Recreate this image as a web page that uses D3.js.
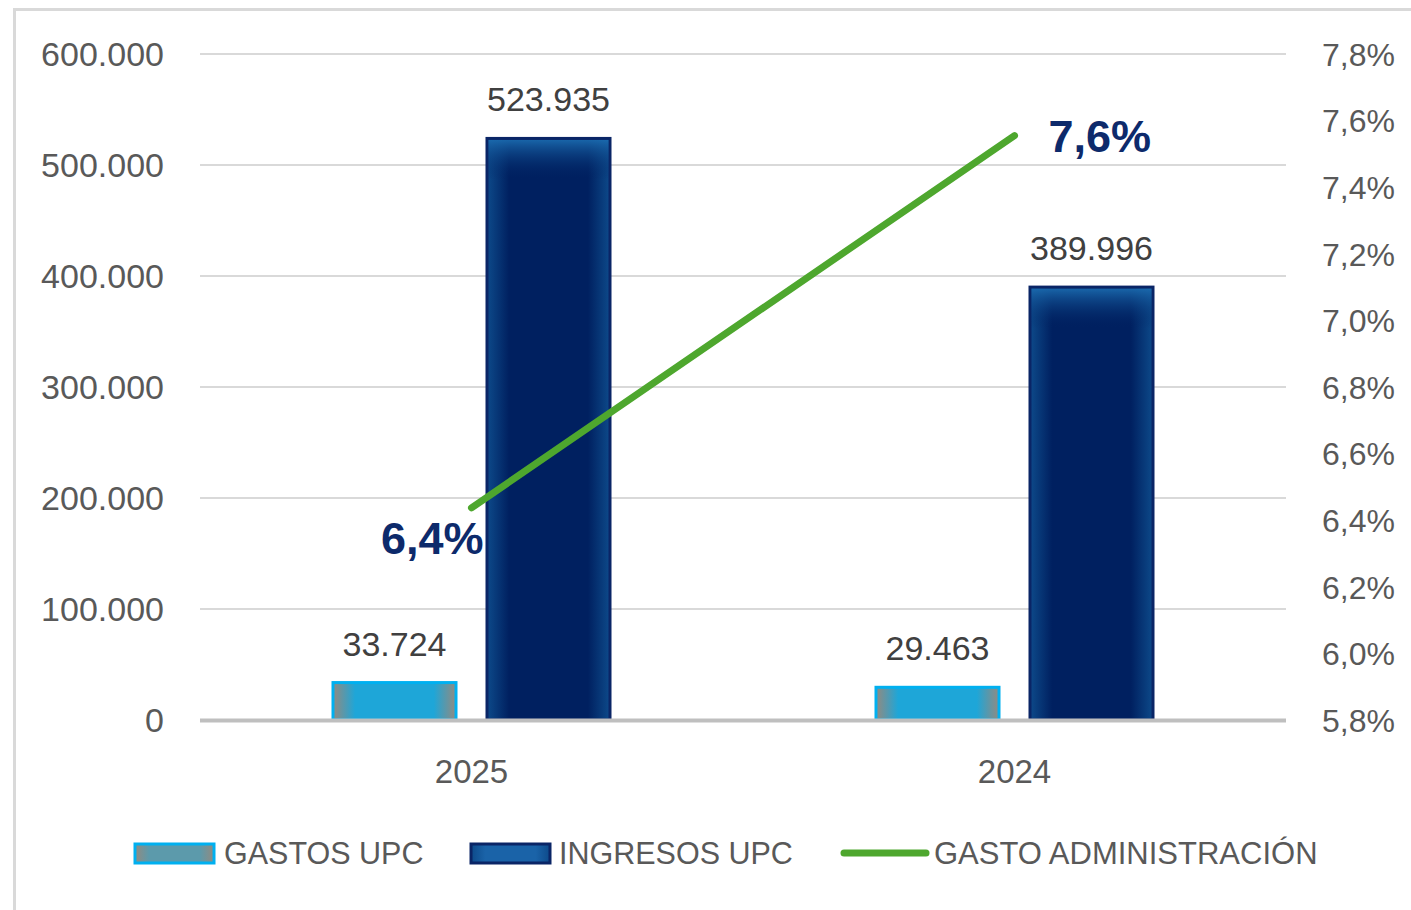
<!DOCTYPE html>
<html>
<head>
<meta charset="utf-8">
<script src="https://cdn.jsdelivr.net/npm/d3@7"></script>
<style>
  body { margin: 0; background: #fff; }
  svg { display: block; font-family: "Liberation Sans", Arial, sans-serif; }
</style>
</head>
<body>
<svg width="1411" height="910"></svg>
<script>
/* datos */
var categories = ["2025", "2024"];
var gastos = [33724, 29463];
var ingresos = [523935, 389996];
var gastoAdm = [0.06437, 0.07555];
var leftTicks = [0, 100000, 200000, 300000, 400000, 500000, 600000];
var rightTicks = [0.058, 0.060, 0.062, 0.064, 0.066, 0.068, 0.070, 0.072, 0.074, 0.076, 0.078];

var svg = d3.select("svg"),
    width = +svg.attr("width"),
    height = +svg.attr("height");

var fmtNum = function (v) { return d3.format(",")(v).replace(/,/g, "."); };
var fmtPct = function (v) {
    return (Math.round(v * 1000 + 1e-6) / 10).toFixed(1).replace(".", ",") + "%";
};

// marco
svg.append("rect")
    .attr("x", 14.5).attr("y", 9.5)
    .attr("width", width + 20).attr("height", height + 20)
    .attr("fill", "none").attr("stroke", "#d9d9d9").attr("stroke-width", 3);

var plotL = 200, plotR = 1286, plotT = 54, plotB = 720;

var x = d3.scaleBand().domain(categories).range([plotL, plotR]);
var y = d3.scaleLinear().domain([0, 600000]).range([plotB, plotT]);
var y2 = d3.scaleLinear().domain([0.058, 0.078]).range([plotB, plotT]);

var defs = svg.append("defs");

function hGrad(id, edge, mid) {
    var g = defs.append("linearGradient").attr("id", id)
        .attr("x1", 0).attr("x2", 1).attr("y1", 0).attr("y2", 0);
    g.append("stop").attr("offset", "0%").attr("stop-color", edge);
    g.append("stop").attr("offset", "18%").attr("stop-color", mid);
    g.append("stop").attr("offset", "82%").attr("stop-color", mid);
    g.append("stop").attr("offset", "100%").attr("stop-color", edge);
}
hGrad("gGastos", "#928a80", "#1ea6d8");
hGrad("gIngresos", "#0d4a8a", "#002060");
hGrad("gGastosLeg", "#928a80", "#5c9aab");
hGrad("gIngresosLeg", "#0d4a8a", "#1a63a8");

var topGlow = defs.append("linearGradient").attr("id", "gTop")
    .attr("x1", 0).attr("x2", 0).attr("y1", 0).attr("y2", 1);
topGlow.append("stop").attr("offset", "0%").attr("stop-color", "#1b6cb0").attr("stop-opacity", 0.9);
topGlow.append("stop").attr("offset", "100%").attr("stop-color", "#002060").attr("stop-opacity", 0);

// rejilla
svg.append("g").selectAll("line")
    .data(leftTicks.filter(function (d) { return d > 0; }))
    .enter().append("line")
    .attr("x1", plotL).attr("x2", plotR)
    .attr("y1", function (d) { return y(d); }).attr("y2", function (d) { return y(d); })
    .attr("stroke", "#d9d9d9").attr("stroke-width", 2);

// eje izquierdo
var axisL = svg.append("g")
    .attr("transform", "translate(" + (plotL - 36) + ",0)")
    .call(d3.axisLeft(y).tickValues(leftTicks).tickFormat(fmtNum).tickSize(0).tickPadding(0));
axisL.select(".domain").remove();
axisL.selectAll("text").attr("font-size", 34).attr("fill", "#595959")
    .attr("font-family", "Liberation Sans, Arial, sans-serif").attr("dy", "0.35em");

// eje derecho
var axisR = svg.append("g")
    .attr("transform", "translate(" + (plotR + 36) + ",0)")
    .call(d3.axisRight(y2).tickValues(rightTicks).tickFormat(fmtPct).tickSize(0).tickPadding(0));
axisR.select(".domain").remove();
axisR.selectAll("text").attr("font-size", 32).attr("fill", "#595959")
    .attr("font-family", "Liberation Sans, Arial, sans-serif").attr("dy", "0.35em");

// barras
var barW = 123, gap = 31;
var groups = svg.append("g").selectAll("g")
    .data(categories)
    .enter().append("g");

groups.append("rect")
    .attr("x", function (d) { return x(d) + x.bandwidth() / 2 - gap / 2 - barW; })
    .attr("y", function (d, i) { return y(gastos[i]); })
    .attr("width", barW)
    .attr("height", function (d, i) { return plotB - y(gastos[i]); })
    .attr("fill", "url(#gGastos)")
    .attr("stroke", "#00b0f0").attr("stroke-width", 3);

groups.append("rect")
    .attr("x", function (d) { return x(d) + x.bandwidth() / 2 + gap / 2; })
    .attr("y", function (d, i) { return y(ingresos[i]); })
    .attr("width", barW)
    .attr("height", function (d, i) { return plotB - y(ingresos[i]); })
    .attr("fill", "url(#gIngresos)")
    .attr("stroke", "#0a2566").attr("stroke-width", 3);

groups.append("rect")
    .attr("x", function (d) { return x(d) + x.bandwidth() / 2 + gap / 2 + 1.5; })
    .attr("y", function (d, i) { return y(ingresos[i]) + 1.5; })
    .attr("width", barW - 3)
    .attr("height", 40)
    .attr("fill", "url(#gTop)");

// etiquetas de barras
groups.append("text")
    .attr("x", function (d) { return x(d) + x.bandwidth() / 2 - gap / 2 - barW / 2; })
    .attr("y", function (d, i) { return y(gastos[i]) - 27; })
    .attr("text-anchor", "middle").attr("font-size", 34).attr("fill", "#404040")
    .text(function (d, i) { return fmtNum(gastos[i]); });

groups.append("text")
    .attr("x", function (d) { return x(d) + x.bandwidth() / 2 + gap / 2 + barW / 2; })
    .attr("y", function (d, i) { return y(ingresos[i]) - 27; })
    .attr("text-anchor", "middle").attr("font-size", 34).attr("fill", "#404040")
    .text(function (d, i) { return fmtNum(ingresos[i]); });

// linea base
svg.append("line")
    .attr("x1", plotL).attr("x2", plotR)
    .attr("y1", plotB + 0.5).attr("y2", plotB + 0.5)
    .attr("stroke", "#bfbfbf").attr("stroke-width", 4);

// categorias
svg.append("g").selectAll("text")
    .data(categories)
    .enter().append("text")
    .attr("x", function (d) { return x(d) + x.bandwidth() / 2; })
    .attr("y", 783)
    .attr("text-anchor", "middle").attr("font-size", 33).attr("fill", "#595959")
    .text(function (d) { return d; });

// linea gasto administracion
var line = d3.line()
    .x(function (d, i) { return x(categories[i]) + x.bandwidth() / 2; })
    .y(function (d) { return y2(d); });

svg.append("path")
    .datum(gastoAdm)
    .attr("d", line)
    .attr("fill", "none").attr("stroke", "#4ea72e").attr("stroke-width", 7)
    .attr("stroke-linecap", "round");

svg.append("text")
    .attr("x", x(categories[0]) + x.bandwidth() / 2 + 12)
    .attr("y", y2(gastoAdm[0]) + 46)
    .attr("text-anchor", "end").attr("font-size", 45).attr("font-weight", "bold").attr("fill", "#0d2a6b")
    .text(fmtPct(gastoAdm[0]));

svg.append("text")
    .attr("x", x(categories[1]) + x.bandwidth() / 2 + 34)
    .attr("y", y2(gastoAdm[1]) + 16)
    .attr("text-anchor", "start").attr("font-size", 45).attr("font-weight", "bold").attr("fill", "#0d2a6b")
    .text(fmtPct(gastoAdm[1]));

// leyenda
var legY = 853;
svg.append("rect").attr("x", 135).attr("y", legY - 9).attr("width", 79).attr("height", 19)
    .attr("fill", "url(#gGastosLeg)").attr("stroke", "#00b0f0").attr("stroke-width", 3);
svg.append("text").attr("x", 224).attr("y", legY).attr("dy", "0.35em")
    .attr("font-size", 30.5).attr("fill", "#595959").text("GASTOS UPC");

svg.append("rect").attr("x", 471).attr("y", legY - 9).attr("width", 79).attr("height", 19)
    .attr("fill", "url(#gIngresosLeg)").attr("stroke", "#0a2566").attr("stroke-width", 3);
svg.append("text").attr("x", 559).attr("y", legY).attr("dy", "0.35em")
    .attr("font-size", 30.5).attr("fill", "#595959").text("INGRESOS UPC");

svg.append("line").attr("x1", 844).attr("x2", 926).attr("y1", legY).attr("y2", legY)
    .attr("stroke", "#4ea72e").attr("stroke-width", 7).attr("stroke-linecap", "round");
svg.append("text").attr("x", 934).attr("y", legY).attr("dy", "0.35em")
    .attr("font-size", 31).attr("fill", "#595959").text("GASTO ADMINISTRACIÓN");
</script>
</body>
</html>
